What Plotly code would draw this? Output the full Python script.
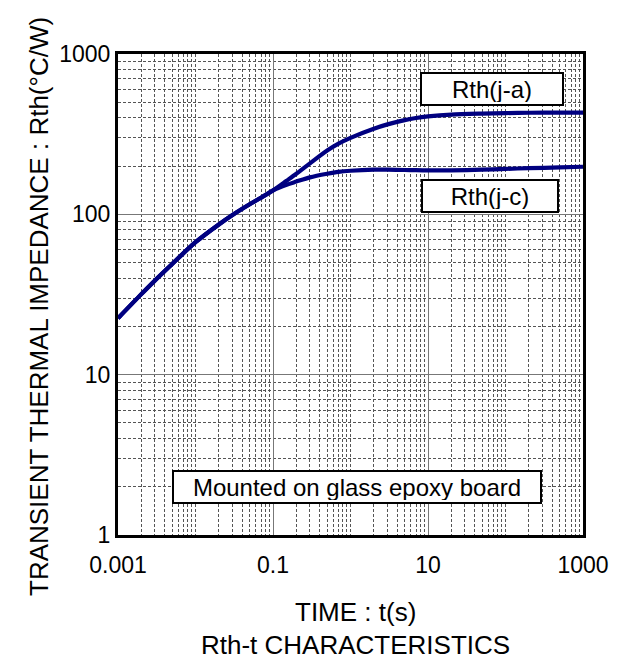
import plotly.graph_objects as go

# ---- data ----
t_s = [0.001, 0.002, 0.003, 0.005, 0.01, 0.02, 0.03, 0.05, 0.07, 0.1, 0.15, 0.2, 0.3,
       0.5, 0.7, 1, 2, 3, 5, 7, 10, 20, 50, 100, 200, 500, 1000]
rth_ja = [22.5, 31.8, 38.7, 49, 67, 86.5, 99, 115.5, 127, 141, 162, 179, 208,
          250, 276, 300, 342, 364, 387, 399, 408, 419, 425, 428, 430, 431, 431]
rth_jc = [22.5, 31.8, 38.7, 49, 67, 86.5, 99, 115.5, 127, 141, 153, 160, 170,
          179, 184, 187, 190, 190, 189, 188.5, 188, 188, 190, 192, 194, 196, 198]

x_tick_vals = [0.001, 0.1, 10, 1000]
x_tick_text = ["0.001", "0.1", "10", "1000"]
y_tick_vals = [1, 10, 100, 1000]
y_tick_text = ["1", "10", "100", "1000"]

series_names = ["Rth(j-a)", "Rth(j-c)"]
note_text = "Mounted on glass epoxy board"
x_title = "TIME : t(s)"
y_title = "TRANSIENT THERMAL IMPEDANCE : Rth(°C/W)"
chart_title = "Rth-t CHARACTERISTICS"

FONT = "Liberation Sans, Arial, sans-serif"
LINE = "#000080"

x_minor = [k * 10.0 ** n for n in range(-3, 3) for k in range(1, 10)
           if not any(abs(k * 10.0 ** n - v) < 1e-12 for v in x_tick_vals)]
y_minor = [k * 10.0 ** n for n in range(0, 3) for k in range(2, 10)]

fig = go.Figure()
for name, vals in zip(series_names, [rth_ja, rth_jc]):
    fig.add_trace(go.Scatter(x=t_s, y=vals, mode="lines", name=name,
                             line=dict(color=LINE, width=4.2, shape="spline", smoothing=0.8),
                             showlegend=False))

fig.update_layout(
    width=612, height=653,
    margin=dict(l=110, r=37, t=46, b=126),
    paper_bgcolor="white", plot_bgcolor="white",
    font=dict(family=FONT, size=23, color="black"),
)

fig.update_xaxes(
    type="log", range=[-3, 3],
    tickmode="array", tickvals=x_tick_vals, ticktext=x_tick_text,
    showgrid=True, gridcolor="#777777", gridwidth=1,
    minor=dict(tickmode="array", tickvals=x_minor, showgrid=True,
               gridcolor="#555555", griddash="3px,2px", gridwidth=1),
    showline=True, linecolor="black", linewidth=3, mirror=True,
    ticks="", ticklabelstandoff=7, zeroline=False,
    tickfont=dict(size=23),
)
fig.update_yaxes(
    type="log", range=[0, 3],
    tickmode="array", tickvals=y_tick_vals, ticktext=y_tick_text,
    showgrid=True, gridcolor="#777777", gridwidth=1,
    minor=dict(tickmode="array", tickvals=y_minor, showgrid=True,
               gridcolor="#555555", griddash="3px,2px", gridwidth=1),
    showline=True, linecolor="black", linewidth=3, mirror=True,
    ticks="", ticklabelstandoff=0, zeroline=False,
    tickfont=dict(size=23),
)

box = dict(showarrow=False, xref="paper", yref="paper", bgcolor="white",
           bordercolor="black", borderwidth=2, borderpad=2,
           font=dict(family=FONT, size=24, color="black"),
           xanchor="center", yanchor="middle", height=26)
fig.add_annotation(text=series_names[0], x=0.804, y=0.928, width=136, **box)
fig.add_annotation(text=series_names[1], x=0.801, y=0.705, width=130, **box)
fig.add_annotation(text=note_text, x=0.514, y=0.099, width=362, **box)

fig.add_annotation(text=x_title, x=0.51, y=-0.160, xref="paper", yref="paper",
                   showarrow=False, xanchor="center", yanchor="middle",
                   font=dict(family=FONT, size=26))
fig.add_annotation(text=chart_title, x=0.51, y=-0.229, xref="paper", yref="paper",
                   showarrow=False, xanchor="center", yanchor="middle",
                   font=dict(family=FONT, size=26))
fig.add_annotation(text=y_title, x=-0.17, y=0.476, xref="paper", yref="paper",
                   showarrow=False, xanchor="center", yanchor="middle",
                   textangle=-90, font=dict(family=FONT, size=26))

fig.write_html("out.html")
